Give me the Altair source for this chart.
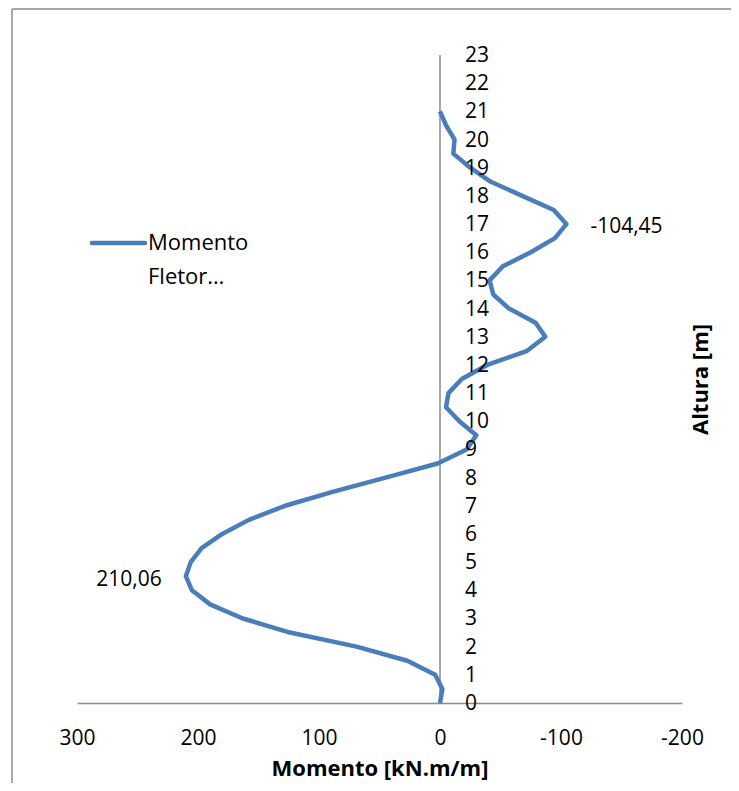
import altair as alt
import pandas as pd

# Height (m) and bending moment (kN.m/m)
altura = [0, 0.5, 1, 1.5, 2, 2.5, 3, 3.5, 4, 4.5, 5, 5.5, 6, 6.5, 7, 7.5, 8, 8.5,
          9, 9.5, 10, 10.5, 11, 11.5, 12, 12.5, 13, 13.5, 14, 14.5, 15, 15.5, 16,
          16.5, 17, 17.5, 18, 18.5, 19, 19.5, 20, 20.5, 21]
momento = [0, -2, 4, 27, 69, 124, 163, 190, 205, 210.06, 206, 197, 180, 158, 128,
           88, 45, 2, -22, -30, -16, -5, -7, -18, -39, -72, -87, -79, -57, -44,
           -41, -52, -75, -95, -104.45, -94, -68, -42, -25, -11, -12, -5, 0]
y_ticks = list(range(0, 24))
x_ticks = [300, 200, 100, 0, -100, -200]
max_label = {"h": [4.5], "m": [210.06], "t": ["210,06"]}
min_label = {"h": [17], "m": [-104.45], "t": ["-104,45"]}
series_name = ["Momento", "Fletor…"]

FONT = "Open Sans"
FS = 21
W, H = 605, 648
BLUE = "#4a7ebb"
GRAY = "#8c8c8c"

df = pd.DataFrame({"h": altura, "m": momento})
xs = alt.Scale(domain=[300, -200], nice=False, zero=False)
ys = alt.Scale(domain=[0, 23], nice=False, zero=False)

line = alt.Chart(df).mark_line(color=BLUE, strokeWidth=4.5, strokeJoin="round").encode(
    x=alt.X("m:Q", scale=xs,
            axis=alt.Axis(values=x_ticks, title="Momento [kN.m/m]", grid=False, ticks=False,
                          domainColor=GRAY, domainWidth=1.5, labelPadding=24,
                          labelFontSize=FS, labelFont=FONT, labelColor="#000",
                          labelExpr="replace(datum.label, '\u2212', '-')",
                          titleFont=FONT, titleFontSize=22, titleFontWeight="bold",
                          titleColor="#000", titlePadding=10, labelFlush=False)),
    y=alt.Y("h:Q", scale=ys,
            axis=alt.Axis(orient="right", labels=False, ticks=False, domain=False, grid=False,
                          title="Altura [m]", titleAngle=270, titleFont=FONT,
                          titleFontSize=22, titleFontWeight="bold", titleColor="#000",
                          titlePadding=30)),
    order=alt.Order("h:Q"),
)

vaxis = alt.Chart(pd.DataFrame({"a": [0]})).mark_rule(color=GRAY, strokeWidth=1.5).encode(
    x=alt.datum(0), y=alt.datum(0), y2=alt.datum(23))

tick_df = pd.DataFrame({"t": y_ticks})
ylabels = alt.Chart(tick_df).mark_text(align="left", baseline="middle", dx=25, dy=1,
                                       font=FONT, fontSize=FS, color="#000").encode(
    x=alt.datum(0), y=alt.Y("t:Q"), text=alt.Text("t:Q"))

lab_max = alt.Chart(pd.DataFrame(max_label)).mark_text(
    align="right", baseline="middle", dx=-24, dy=4, font=FONT, fontSize=FS, color="#000"
).encode(x="m:Q", y="h:Q", text="t:N")
lab_min = alt.Chart(pd.DataFrame(min_label)).mark_text(
    align="left", baseline="middle", dx=24, dy=3, font=FONT, fontSize=FS, color="#000"
).encode(x="m:Q", y="h:Q", text="t:N")

one = pd.DataFrame({"a": [0]})
leg_line = alt.Chart(one).mark_rule(color=BLUE, strokeWidth=4.5, strokeCap="round").encode(
    x=alt.value(15), x2=alt.value(68), y=alt.value(188))
leg_t1 = alt.Chart(one).mark_text(align="left", baseline="middle", font=FONT, fontSize=22,
                                  color="#000", text=series_name[0]).encode(
    x=alt.value(71), y=alt.value(188))
leg_t2 = alt.Chart(one).mark_text(align="left", baseline="middle", font=FONT, fontSize=22,
                                  color="#000", text=series_name[1]).encode(
    x=alt.value(71), y=alt.value(222))

# chart-area border (left and top edges; right and bottom fall outside the picture)
frame_left = alt.Chart(one).mark_rule(color="#8a8a8a", strokeWidth=1.5).encode(
    x=alt.value(-65), y=alt.value(-46), y2=alt.value(H + 90))
frame_top = alt.Chart(one).mark_rule(color="#8a8a8a", strokeWidth=1.5).encode(
    x=alt.value(-65), x2=alt.value(W + 60), y=alt.value(-46))

chart = alt.layer(frame_left, frame_top, vaxis, line, ylabels, lab_max, lab_min,
                  leg_line, leg_t1, leg_t2).properties(
    width=W, height=H,
    background="white",
    autosize=alt.AutoSizeParams(type="none"),
    padding={"left": 69, "top": 47, "right": 49, "bottom": 80},
).configure_view(strokeWidth=0)

chart.save("out.html", embed_options={"renderer": "svg", "actions": False})
